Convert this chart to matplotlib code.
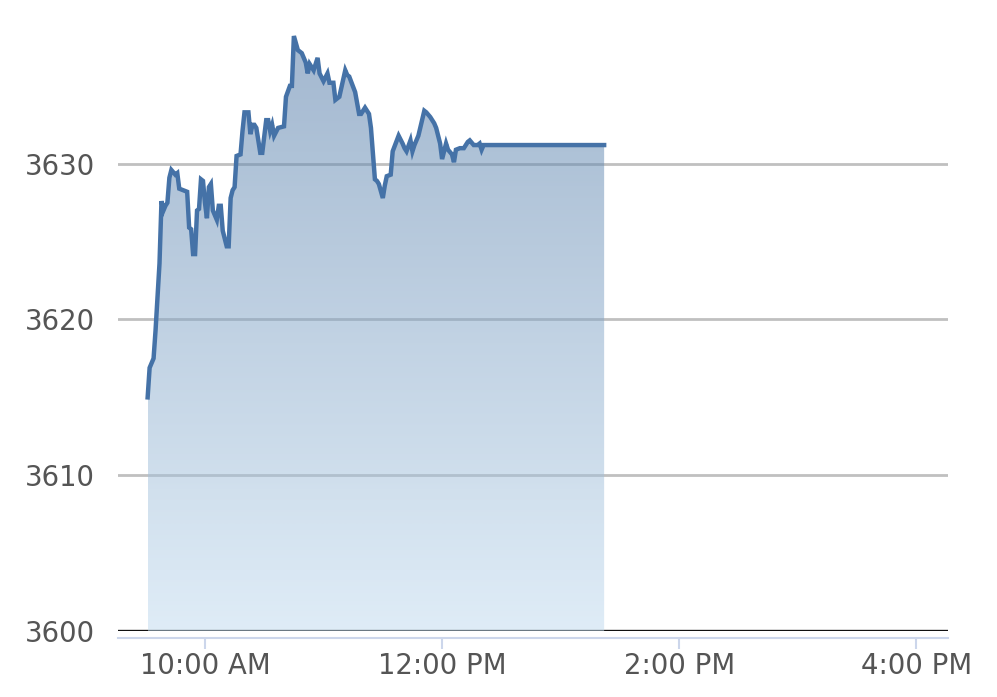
import matplotlib
matplotlib.use("Agg")
import matplotlib.pyplot as plt
import numpy as np

# ---- data ----
times = ["09:31", "09:32", "09:34", "09:35", "09:37", "09:38", "09:39", "09:40", "09:41", "09:42",
         "09:43", "09:45", "09:46", "09:47", "09:49", "09:51", "09:52", "09:53", "09:54", "09:55",
         "09:56", "09:57", "09:58", "09:59", "10:00", "10:01", "10:02", "10:03", "10:04", "10:06",
         "10:07", "10:08", "10:09", "10:11", "10:12", "10:13", "10:14", "10:15", "10:16", "10:18",
         "10:19", "10:20", "10:22", "10:23", "10:24", "10:25", "10:26", "10:28", "10:29", "10:31",
         "10:32", "10:33", "10:34", "10:35", "10:37", "10:40", "10:41", "10:43", "10:44", "10:45",
         "10:47", "10:49", "10:51", "10:52", "10:53", "10:55", "10:57", "10:58", "11:00", "11:02",
         "11:03", "11:05", "11:06", "11:08", "11:11", "11:12", "11:13", "11:16", "11:18", "11:19",
         "11:21", "11:23", "11:24", "11:26", "11:27", "11:28", "11:30", "11:31", "11:32", "11:34",
         "11:35", "11:38", "11:40", "11:41", "11:42", "11:44", "11:45", "11:46", "11:48", "11:51",
         "11:52", "11:54", "11:56", "11:57", "11:59", "12:00", "12:02", "12:03", "12:05", "12:06",
         "12:07", "12:09", "12:11", "12:13", "12:14", "12:16", "12:18", "12:19", "12:20", "12:21",
         "12:40", "13:00", "13:22"]
values = [3615.0, 3616.9, 3617.5, 3619.3, 3623.6, 3627.6, 3627.0, 3627.3, 3627.5, 3629.1,
          3629.6, 3629.3, 3629.4, 3628.4, 3628.3, 3628.2, 3625.9, 3625.8, 3624.2, 3624.2,
          3627.0, 3627.1, 3629.0, 3628.9, 3627.5, 3626.5, 3628.5, 3628.7, 3627.0, 3626.4,
          3627.3, 3627.3, 3625.7, 3624.7, 3624.7, 3627.8, 3628.3, 3628.5, 3630.5, 3630.6,
          3632.1, 3633.3, 3633.3, 3631.9, 3632.5, 3632.5, 3632.3, 3630.7, 3630.7, 3632.8,
          3632.8, 3632.1, 3632.5, 3631.8, 3632.3, 3632.4, 3634.3, 3635.0, 3635.0, 3638.2,
          3637.3, 3637.1, 3636.5, 3635.8, 3636.4, 3636.0, 3636.8, 3635.8, 3635.3, 3635.8,
          3635.2, 3635.2, 3634.1, 3634.3, 3636.0, 3635.7, 3635.6, 3634.6, 3633.2, 3633.2,
          3633.6, 3633.2, 3632.3, 3629.0, 3628.9, 3628.7, 3627.8, 3628.6, 3629.2, 3629.3,
          3630.8, 3631.8, 3631.3, 3631.0, 3630.8, 3631.5, 3630.8, 3631.2, 3631.8, 3633.4,
          3633.3, 3633.0, 3632.6, 3632.3, 3631.3, 3630.3, 3631.3, 3630.9, 3630.6, 3630.1,
          3630.9, 3631.0, 3631.0, 3631.4, 3631.5, 3631.2, 3631.2, 3631.3, 3630.9, 3631.2,
          3631.2, 3631.2, 3631.2]
y_ticks = [3600, 3610, 3620, 3630]
x_tick_times = ["10:00", "12:00", "14:00", "16:00"]
x_tick_labels = ["10:00 AM", "12:00 PM", "2:00 PM", "4:00 PM"]


def to_min(s):
    h, m = s.split(":")
    return int(h) * 60 + int(m)


x = np.array([to_min(t) for t in times], dtype=float)
y = np.array(values)
xt = [to_min(t) for t in x_tick_times]

plt.rcParams['font.family'] = ['DejaVu Sans']

W, H = 997, 697
fig = plt.figure(figsize=(W / 100, H / 100), dpi=100)
left, right = 118, 948
bottom_px, top_px = 631, 8
ax = fig.add_axes([left / W, 1 - bottom_px / H, (right - left) / W, (bottom_px - top_px) / H])

# grid
for v in y_ticks[1:]:
    ax.axhline(v, color='#c0c0c0', lw=2, zorder=1)
ax.axhline(y_ticks[0], color='#111111', lw=2.4, zorder=1)

# gradient fill
poly = ax.fill_between(x, y, y_ticks[0], color='none', lw=0)
top_c = np.array([0.30, 0.46, 0.64])
bot_c = np.array([0.76, 0.86, 0.94])
n = 256
grad = np.zeros((n, 1, 4))
tt = np.linspace(0, 1, n)[:, None]
grad[:, 0, :3] = top_c * (1 - tt) + bot_c * tt
grad[:, 0, 3] = 0.52
im = ax.imshow(grad, aspect='auto', extent=[x.min(), x.max(), y_ticks[0], y.max()],
               origin='upper', zorder=2, interpolation='bilinear')
im.set_clip_path(poly.get_paths()[0], transform=ax.transData)

ax.plot(x, y, color='#4572a7', lw=3.2, zorder=3, solid_joinstyle='miter')

ax.set_xlim(556, 976)
ax.set_ylim(3600, 3640)

# axes styling
for s in ['top', 'right', 'left']:
    ax.spines[s].set_visible(False)
ax.spines['bottom'].set_position(('outward', 5))
ax.spines['bottom'].set_color('#ccd6eb')
ax.spines['bottom'].set_linewidth(1.5)

ax.set_yticks(y_ticks)
ax.set_yticklabels([str(v) for v in y_ticks])
ax.tick_params(axis='y', length=0, pad=16.5, labelsize=19.8, labelcolor='#555555')
ax.set_xticks(xt)
ax.set_xticklabels(x_tick_labels)
ax.tick_params(axis='x', length=8, width=1.5, color='#ccd6eb', pad=2,
               labelsize=19.8, labelcolor='#555555')

fig.savefig('out.png', dpi=100)
